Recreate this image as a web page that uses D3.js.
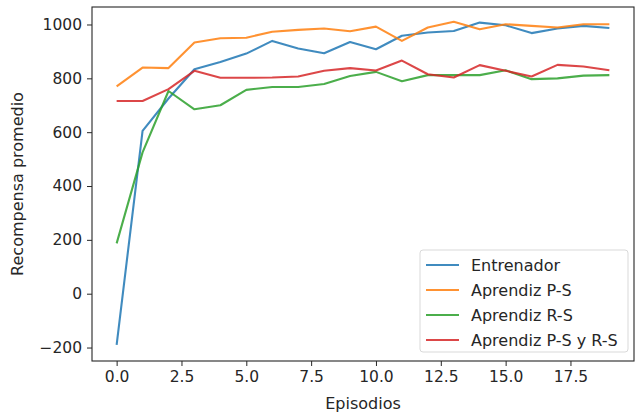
<!DOCTYPE html>
<html>
<head>
<meta charset="utf-8">
<script src="https://cdn.jsdelivr.net/npm/d3@7"></script>
<style>
  body { margin: 0; background: #fff; }
  text { font-family: "DejaVu Sans", sans-serif; fill: #262626; }
</style>
</head>
<body>
<div class="chart"></div>
<script>
// episodes 0..19
var episodios = d3.range(0, 20);

var entrenador = [-190, 605, 725, 834, 861, 892, 939, 911, 893, 935,
                  908, 958, 970, 976, 1007, 997, 968, 985, 995, 987];
var aprendizPS = [770, 840, 838, 933, 949, 951, 973, 980, 985, 975,
                  992, 939, 989, 1010, 982, 1001, 995, 989, 1001, 1001];
var aprendizRS = [187, 525, 753, 685, 700, 757, 768, 768, 779, 809,
                  824, 789, 812, 812, 812, 830, 797, 800, 810, 812];
var aprendizPSRS = [716, 716, 760, 828, 802, 802, 803, 807, 828, 838,
                    829, 866, 815, 803, 849, 828, 807, 850, 844, 830];

var seriesNames = ['Entrenador', 'Aprendiz P-S', 'Aprendiz R-S', 'Aprendiz P-S y R-S'];
var seriesData = [entrenador, aprendizPS, aprendizRS, aprendizPSRS];
var colors = ['#1f77b4', '#ff7f0e', '#2ca02c', '#d62728'];

var xTicks = [0, 2.5, 5, 7.5, 10, 12.5, 15, 17.5];
var yTicks = [-200, 0, 200, 400, 600, 800, 1000];

var W = 635, H = 414;
var margin = { top: 7, right: 1, bottom: 53, left: 92 };
var width = W - margin.left - margin.right;
var height = H - margin.top - margin.bottom;

var svg = d3.select('.chart')
  .append('svg')
  .attr('width', W)
  .attr('height', H)
  .append('g')
  .attr('transform', 'translate(' + margin.left + ',' + margin.top + ')');

var xScale = d3.scaleLinear().domain([-0.95, 19.95]).range([0, width]);
var yScale = d3.scaleLinear().domain([-250, 1065]).range([height, 0]);

// axes
var xAxis = svg.append('g')
  .attr('transform', 'translate(0,' + height + ')')
  .call(d3.axisBottom(xScale).tickValues(xTicks).tickFormat(d3.format('.1f')).tickSize(5).tickPadding(5));

var yAxis = svg.append('g')
  .call(d3.axisLeft(yScale).tickValues(yTicks).tickFormat(d => d < 0 ? '\u2212' + Math.abs(d) : d).tickSize(5).tickPadding(5));

[xAxis, yAxis].forEach(function (a) {
  a.select('.domain').remove();
  a.selectAll('line').attr('stroke', '#262626').attr('stroke-width', 1);
  a.selectAll('text').style('font-size', '15.5px').style('font-family', '"DejaVu Sans", sans-serif').attr('fill', '#262626');
});

// frame
svg.append('rect')
  .attr('x', 0).attr('y', 0)
  .attr('width', width).attr('height', height)
  .attr('fill', 'none')
  .attr('stroke', '#262626')
  .attr('stroke-width', 1.1);

// lines
var line = d3.line()
  .x((d, i) => xScale(episodios[i]))
  .y(d => yScale(d));

seriesData.forEach(function (s, k) {
  svg.append('path')
    .datum(s)
    .attr('class', 'line')
    .attr('d', line)
    .style('stroke', colors[k])
    .style('stroke-width', 2.1)
    .style('stroke-opacity', 0.85)
    .style('fill', 'none')
    .style('stroke-linejoin', 'round');
});

// axis labels
svg.append('text')
  .attr('x', width / 2)
  .attr('y', height + 48)
  .style('text-anchor', 'middle')
  .style('font-size', '16px')
  .text('Episodios');

svg.append('text')
  .attr('transform', 'translate(' + (-69) + ',' + (height / 2) + ') rotate(-90)')
  .style('text-anchor', 'middle')
  .style('font-size', '16px')
  .text('Recompensa promedio');

// legend
var lgX = 328, lgY = 243, lgW = 208, lgH = 102;
var legend = svg.append('g').attr('transform', 'translate(' + lgX + ',' + lgY + ')');
legend.append('rect')
  .attr('width', lgW).attr('height', lgH)
  .attr('rx', 3)
  .attr('fill', '#fff')
  .attr('fill-opacity', 0.8)
  .attr('stroke', '#d9d9d9');

seriesNames.forEach(function (name, k) {
  var yy = 15 + k * 25;
  legend.append('line')
    .attr('x1', 6).attr('x2', 39)
    .attr('y1', yy).attr('y2', yy)
    .style('stroke', colors[k])
    .style('stroke-width', 2.1)
    .style('stroke-opacity', 0.85);
  legend.append('text')
    .attr('x', 51).attr('y', yy)
    .attr('dy', '0.35em')
    .style('font-size', '16px')
    .text(name);
});
</script>
</body>
</html>
